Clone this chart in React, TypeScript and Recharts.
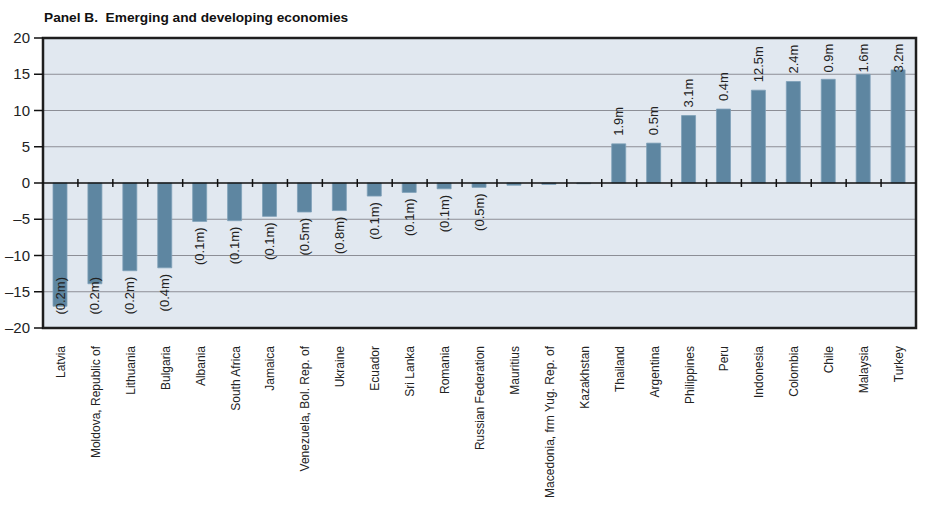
import React from "react";
import {
  BarChart,
  Bar,
  XAxis,
  YAxis,
  CartesianGrid,
  ReferenceLine,
  ReferenceArea,
  LabelList,
} from "recharts";

const countries = [
  "Latvia",
  "Moldova, Republic of",
  "Lithuania",
  "Bulgaria",
  "Albania",
  "South Africa",
  "Jamaica",
  "Venezuela, Bol. Rep. of",
  "Ukraine",
  "Ecuador",
  "Sri Lanka",
  "Romania",
  "Russian Federation",
  "Mauritius",
  "Macedonia, frm Yug. Rep. of",
  "Kazakhstan",
  "Thailand",
  "Argentina",
  "Philippines",
  "Peru",
  "Indonesia",
  "Colombia",
  "Chile",
  "Malaysia",
  "Turkey",
];

const values = [
  -17.0, -13.9, -12.1, -11.7, -5.3, -5.2, -4.6, -4.0, -3.8, -1.8, -1.3, -0.8,
  -0.6, -0.3, -0.2, -0.1, 5.4, 5.5, 9.3, 10.2, 12.8, 14.0, 14.3, 15.0, 15.6,
];

const popLabels = [
  "(0.2m)", "(0.2m)", "(0.2m)", "(0.4m)", "(0.1m)", "(0.1m)", "(0.1m)",
  "(0.5m)", "(0.8m)", "(0.1m)", "(0.1m)", "(0.1m)", "(0.5m)", "", "", "",
  "1.9m", "0.5m", "3.1m", "0.4m", "12.5m", "2.4m", "0.9m", "1.6m", "3.2m",
];

const yTicks = [-20, -15, -10, -5, 0, 5, 10, 15, 20];

const title = "Panel B.  Emerging and developing economies";

const data = countries.map((c, i) => ({
  country: c,
  value: values[i],
  pop: popLabels[i],
}));

const FONT = "'Liberation Sans', Arial, sans-serif";

const XTick = (props: any) => {
  const { x, payload } = props;
  const ay = 346;
  return (
    <text
      x={x + 4.5}
      y={ay}
      transform={`rotate(-90, ${x + 4.5}, ${ay})`}
      textAnchor="end"
      fontSize={12}
      fontFamily={FONT}
      fill="#222"
    >
      {payload.value}
    </text>
  );
};

const YTick = (props: any) => {
  const { x, y, payload } = props;
  const v = payload.value as number;
  const s = v < 0 ? "\u2013" + Math.abs(v) : String(v);
  return (
    <text
      x={x}
      y={y}
      dy={5}
      textAnchor="end"
      fontSize={15}
      fontFamily={FONT}
      fill="#222"
    >
      {s}
    </text>
  );
};

const ValueLabel = (props: any) => {
  const { x, y, width, height, value, index } = props;
  if (!value) return null;
  const v = values[index];
  const cx = x + width / 2 + 4.5;
  const top = Math.min(y, y + height);
  const bottom = Math.max(y, y + height);
  if (v >= 0) {
    const ay = Math.max(top - 8, 72.5);
    return (
      <text
        x={cx}
        y={ay}
        transform={`rotate(-90, ${cx}, ${ay})`}
        textAnchor="start"
        fontSize={13}
        fontFamily={FONT}
        fill="#222"
      >
        {value}
      </text>
    );
  }
  const ay = Math.min(bottom + 6, 277);
  return (
    <text
      x={cx}
      y={ay}
      transform={`rotate(-90, ${cx}, ${ay})`}
      textAnchor="end"
      fontSize={13}
      fontFamily={FONT}
      fill="#222"
    >
      {value}
    </text>
  );
};

const ZeroLine = (props: any) => {
  const { x1, y1, x2 } = props;
  const n = countries.length;
  const step = (x2 - x1) / n;
  const ticks = [];
  for (let k = 1; k < n; k++) {
    const tx = x1 + step * k;
    ticks.push(
      <line key={k} x1={tx} x2={tx} y1={y1 - 4} y2={y1 + 4} stroke="#111" strokeWidth={1.5} />
    );
  }
  return (
    <g>
      <line x1={x1} x2={x2} y1={y1} y2={y1} stroke="#111" strokeWidth={1.5} />
      {ticks}
    </g>
  );
};

export default function App() {
  return (
    <div style={{ position: "absolute", left: 0, top: 0, width: 946, height: 521, background: "#fff" }}>
      <div
        style={{
          position: "absolute",
          left: 44,
          top: 10,
          fontFamily: FONT,
          fontWeight: "bold",
          fontSize: 13.7,
          color: "#111",
          whiteSpace: "pre",
        }}
      >
        {title}
      </div>
      <BarChart
        width={946}
        height={521}
        data={data}
        margin={{ top: 38, right: 30, bottom: 0, left: 0 }}
        barCategoryGap={0}
      >
        <CartesianGrid
          horizontal={true}
          vertical={false}
          fill="#E1E8F0"
          stroke="#8C8E96"
          strokeWidth={1.2}
          horizontalValues={[-15, -10, -5, 5, 10, 15]}
        />
        <XAxis
          dataKey="country"
          interval={0}
          tickLine={false}
          axisLine={false}
          tick={<XTick />}
          height={193}
        />
        <YAxis
          domain={[-20, 20]}
          ticks={yTicks}
          width={43}
          axisLine={false}
          tickLine={{ stroke: "#111", strokeWidth: 1.5 }}
          tickSize={9}
          tickMargin={4}
          tick={<YTick />}
          interval={0}
        />
        <ReferenceLine y={0} shape={<ZeroLine />} />
        <Bar
          dataKey="value"
          fill="#5E86A1"
          stroke="#7E9FB7"
          strokeWidth={0.8}
          barSize={14}
          isAnimationActive={false}
        >
          <LabelList dataKey="pop" content={<ValueLabel />} />
        </Bar>
        <ReferenceArea
          y1={-20}
          y2={20}
          fill="none"
          fillOpacity={0}
          stroke="#1E1E1E"
          strokeWidth={2.5}
        />
      </BarChart>
    </div>
  );
}
